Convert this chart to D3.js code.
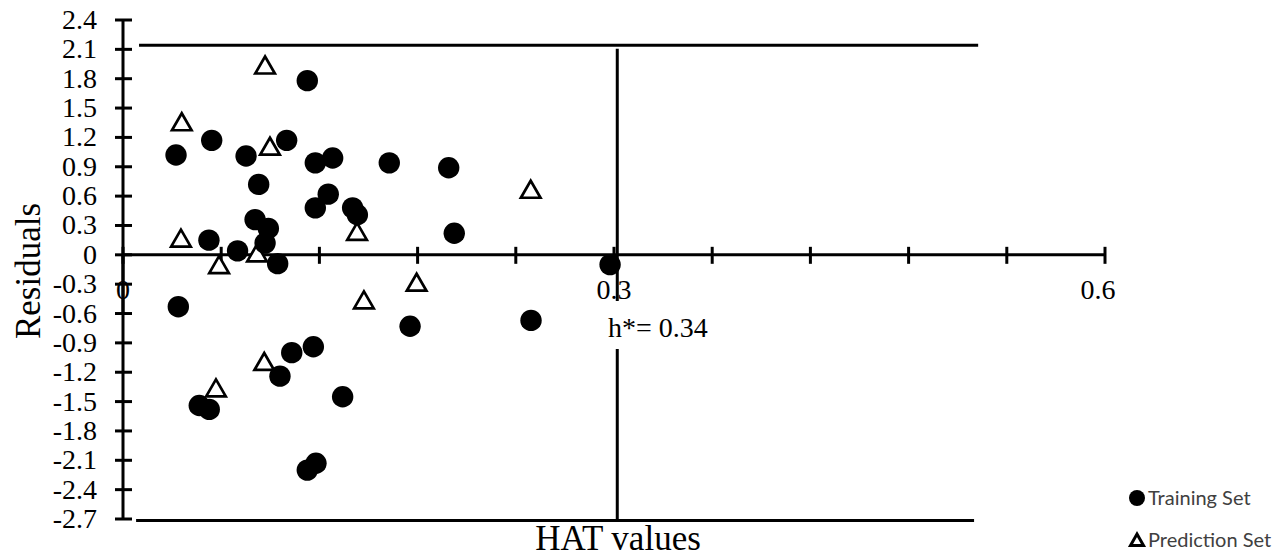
<!DOCTYPE html>
<html>
<head>
<meta charset="utf-8">
<script src="https://cdn.jsdelivr.net/npm/d3@7"></script>
<style>
	body { margin: 0; background: #fff; }
	svg { display: block; }
	.tick-label { font-family: 'Liberation Serif', 'Times New Roman', serif; font-size: 28px; fill: #000; }
	.title { font-family: 'Liberation Serif', 'Times New Roman', serif; font-size: 35px; fill: #000; }
	.legend { font-family: Lato, 'Open Sans', sans-serif; font-size: 20px; fill: #404040; }
</style>
</head>
<body>
<div id="chart"></div>
<script>
// training set: HAT value, residual
const trainHat = [0.0324, 0.0542, 0.0752, 0.1126, 0.1000, 0.0829, 0.1175, 0.1281, 0.1627, 0.1990,
	0.1254, 0.1175, 0.1403, 0.1432, 0.2024, 0.0807, 0.0888, 0.0868, 0.0525, 0.0700,
	0.0945, 0.2976, 0.0338, 0.1754, 0.2493, 0.1031, 0.1163, 0.0959, 0.1342, 0.0466,
	0.0527, 0.1126, 0.1179];
const trainRes = [1.02, 1.17, 1.01, 1.78, 1.17, 0.72, 0.94, 0.99, 0.94, 0.89,
	0.62, 0.48, 0.48, 0.41, 0.22, 0.36, 0.27, 0.12, 0.15, 0.04,
	-0.09, -0.10, -0.53, -0.73, -0.67, -1.00, -0.94, -1.24, -1.45, -1.54,
	-1.58, -2.20, -2.13];

// prediction set
const predHat = [0.0868, 0.0359, 0.0898, 0.0354, 0.0587, 0.0819, 0.1430, 0.2491, 0.1794, 0.1472, 0.0863, 0.0568];
const predRes = [1.94, 1.36, 1.11, 0.17, -0.10, 0.02, 0.24, 0.67, -0.28, -0.46, -1.09, -1.36];

const xTicks = [0, 0.06, 0.12, 0.18, 0.24, 0.3, 0.36, 0.42, 0.48, 0.54, 0.6];
const xLabels = [0, 0.3, 0.6];
const yTicks = [2.4, 2.1, 1.8, 1.5, 1.2, 0.9, 0.6, 0.3, 0, -0.3, -0.6, -0.9, -1.2, -1.5, -1.8, -2.1, -2.4, -2.7];

const hStar = 0.302;      // where the h* line sits on the picture
const resLimitUp = 2.143;
const resLimitDown = -2.715;

const width = 1278, height = 559;

const svg = d3.select('#chart').append('svg')
	.attr('width', width)
	.attr('height', height);

const x = d3.scaleLinear().domain([0, 0.6]).range([123, 1105]);
const y = d3.scaleLinear().domain([-2.7, 2.4]).range([519, 20]);

const lineW = 3;

// y axis
svg.append('line')
	.attr('x1', x(0)).attr('x2', x(0))
	.attr('y1', y(2.4)).attr('y2', y(-2.7))
	.attr('stroke', '#000').attr('stroke-width', lineW);

svg.selectAll('.ytick')
	.data(yTicks)
	.enter().append('line')
		.attr('class', 'ytick')
		.attr('x1', x(0) - 8).attr('x2', x(0) + 9)
		.attr('y1', d => y(d)).attr('y2', d => y(d))
		.attr('stroke', '#000').attr('stroke-width', lineW);

svg.selectAll('.ylab')
	.data(yTicks)
	.enter().append('text')
		.attr('class', 'tick-label')
		.attr('x', 97)
		.attr('y', d => y(d) + 9)
		.attr('text-anchor', 'end')
		.text(d => d === 0 ? '0' : d.toFixed(1));

// x axis along zero
svg.append('line')
	.attr('x1', x(0)).attr('x2', x(0.6))
	.attr('y1', y(0)).attr('y2', y(0))
	.attr('stroke', '#000').attr('stroke-width', lineW);

svg.selectAll('.xtick')
	.data(xTicks)
	.enter().append('line')
		.attr('class', 'xtick')
		.attr('x1', d => x(d)).attr('x2', d => x(d))
		.attr('y1', y(0) - 8).attr('y2', y(0) + 9)
		.attr('stroke', '#000').attr('stroke-width', lineW);

svg.selectAll('.xlab')
	.data(xLabels)
	.enter().append('text')
		.attr('class', 'tick-label')
		.attr('x', d => d === 0.6 ? x(d) - 7 : x(d))
		.attr('y', 299)
		.attr('text-anchor', 'middle')
		.text(d => d === 0 ? '0' : d.toFixed(1));

// redraw y axis over the "0" label
svg.append('line')
	.attr('x1', x(0)).attr('x2', x(0))
	.attr('y1', y(0)).attr('y2', y(-0.6))
	.attr('stroke', '#000').attr('stroke-width', lineW);

// warning limits
svg.append('line')
	.attr('x1', x(0.0098)).attr('x2', x(0.5225))
	.attr('y1', y(resLimitUp)).attr('y2', y(resLimitUp))
	.attr('stroke', '#000').attr('stroke-width', lineW);
svg.append('line')
	.attr('x1', x(0.008)).attr('x2', x(0.52))
	.attr('y1', y(resLimitDown)).attr('y2', y(resLimitDown))
	.attr('stroke', '#000').attr('stroke-width', lineW);
svg.append('line')
	.attr('x1', x(hStar)).attr('x2', x(hStar))
	.attr('y1', y(2.106)).attr('y2', y(resLimitDown))
	.attr('stroke', '#000').attr('stroke-width', lineW);

// h* label on a white box
svg.append('rect')
	.attr('x', 604).attr('y', 301)
	.attr('width', 114).attr('height', 48)
	.attr('fill', '#fff');
svg.append('text')
	.attr('class', 'tick-label')
	.attr('x', 608)
	.attr('y', 337)
	.text('h*= 0.34');

// titles
svg.append('text')
	.attr('class', 'title')
	.attr('x', 618)
	.attr('y', 550)
	.attr('text-anchor', 'middle')
	.text('HAT values');
svg.append('text')
	.attr('class', 'title')
	.attr('transform', 'translate(40,271) rotate(-90)')
	.attr('text-anchor', 'middle')
	.text('Residuals');

// markers
const tri = 'M0,-8.5L9.8,8.5L-9.8,8.5Z';

svg.selectAll('.pred')
	.data(predHat.map((h, i) => [h, predRes[i]]))
	.enter().append('path')
		.attr('class', 'pred')
		.attr('d', tri)
		.attr('transform', d => `translate(${x(d[0])},${y(d[1])})`)
		.attr('fill', '#fff')
		.attr('stroke', '#000')
		.attr('stroke-width', 2.7);

svg.selectAll('.train')
	.data(trainHat.map((h, i) => [h, trainRes[i]]))
	.enter().append('circle')
		.attr('class', 'train')
		.attr('cx', d => x(d[0]))
		.attr('cy', d => y(d[1]))
		.attr('r', 10.7)
		.attr('fill', '#000');

// legend
const lg = svg.append('g');
lg.append('circle').attr('cx', 1137).attr('cy', 498).attr('r', 8).attr('fill', '#000');
lg.append('text').attr('class', 'legend').attr('x', 1148).attr('y', 505).text('Training Set');
lg.append('path')
	.attr('d', 'M0,-6L6.5,5.5L-6.5,5.5Z')
	.attr('transform', 'translate(1137,540)')
	.attr('fill', '#fff').attr('stroke', '#000').attr('stroke-width', 3);
lg.append('text').attr('class', 'legend').attr('x', 1148).attr('y', 547).text('Prediction Set');
</script>
</body>
</html>
